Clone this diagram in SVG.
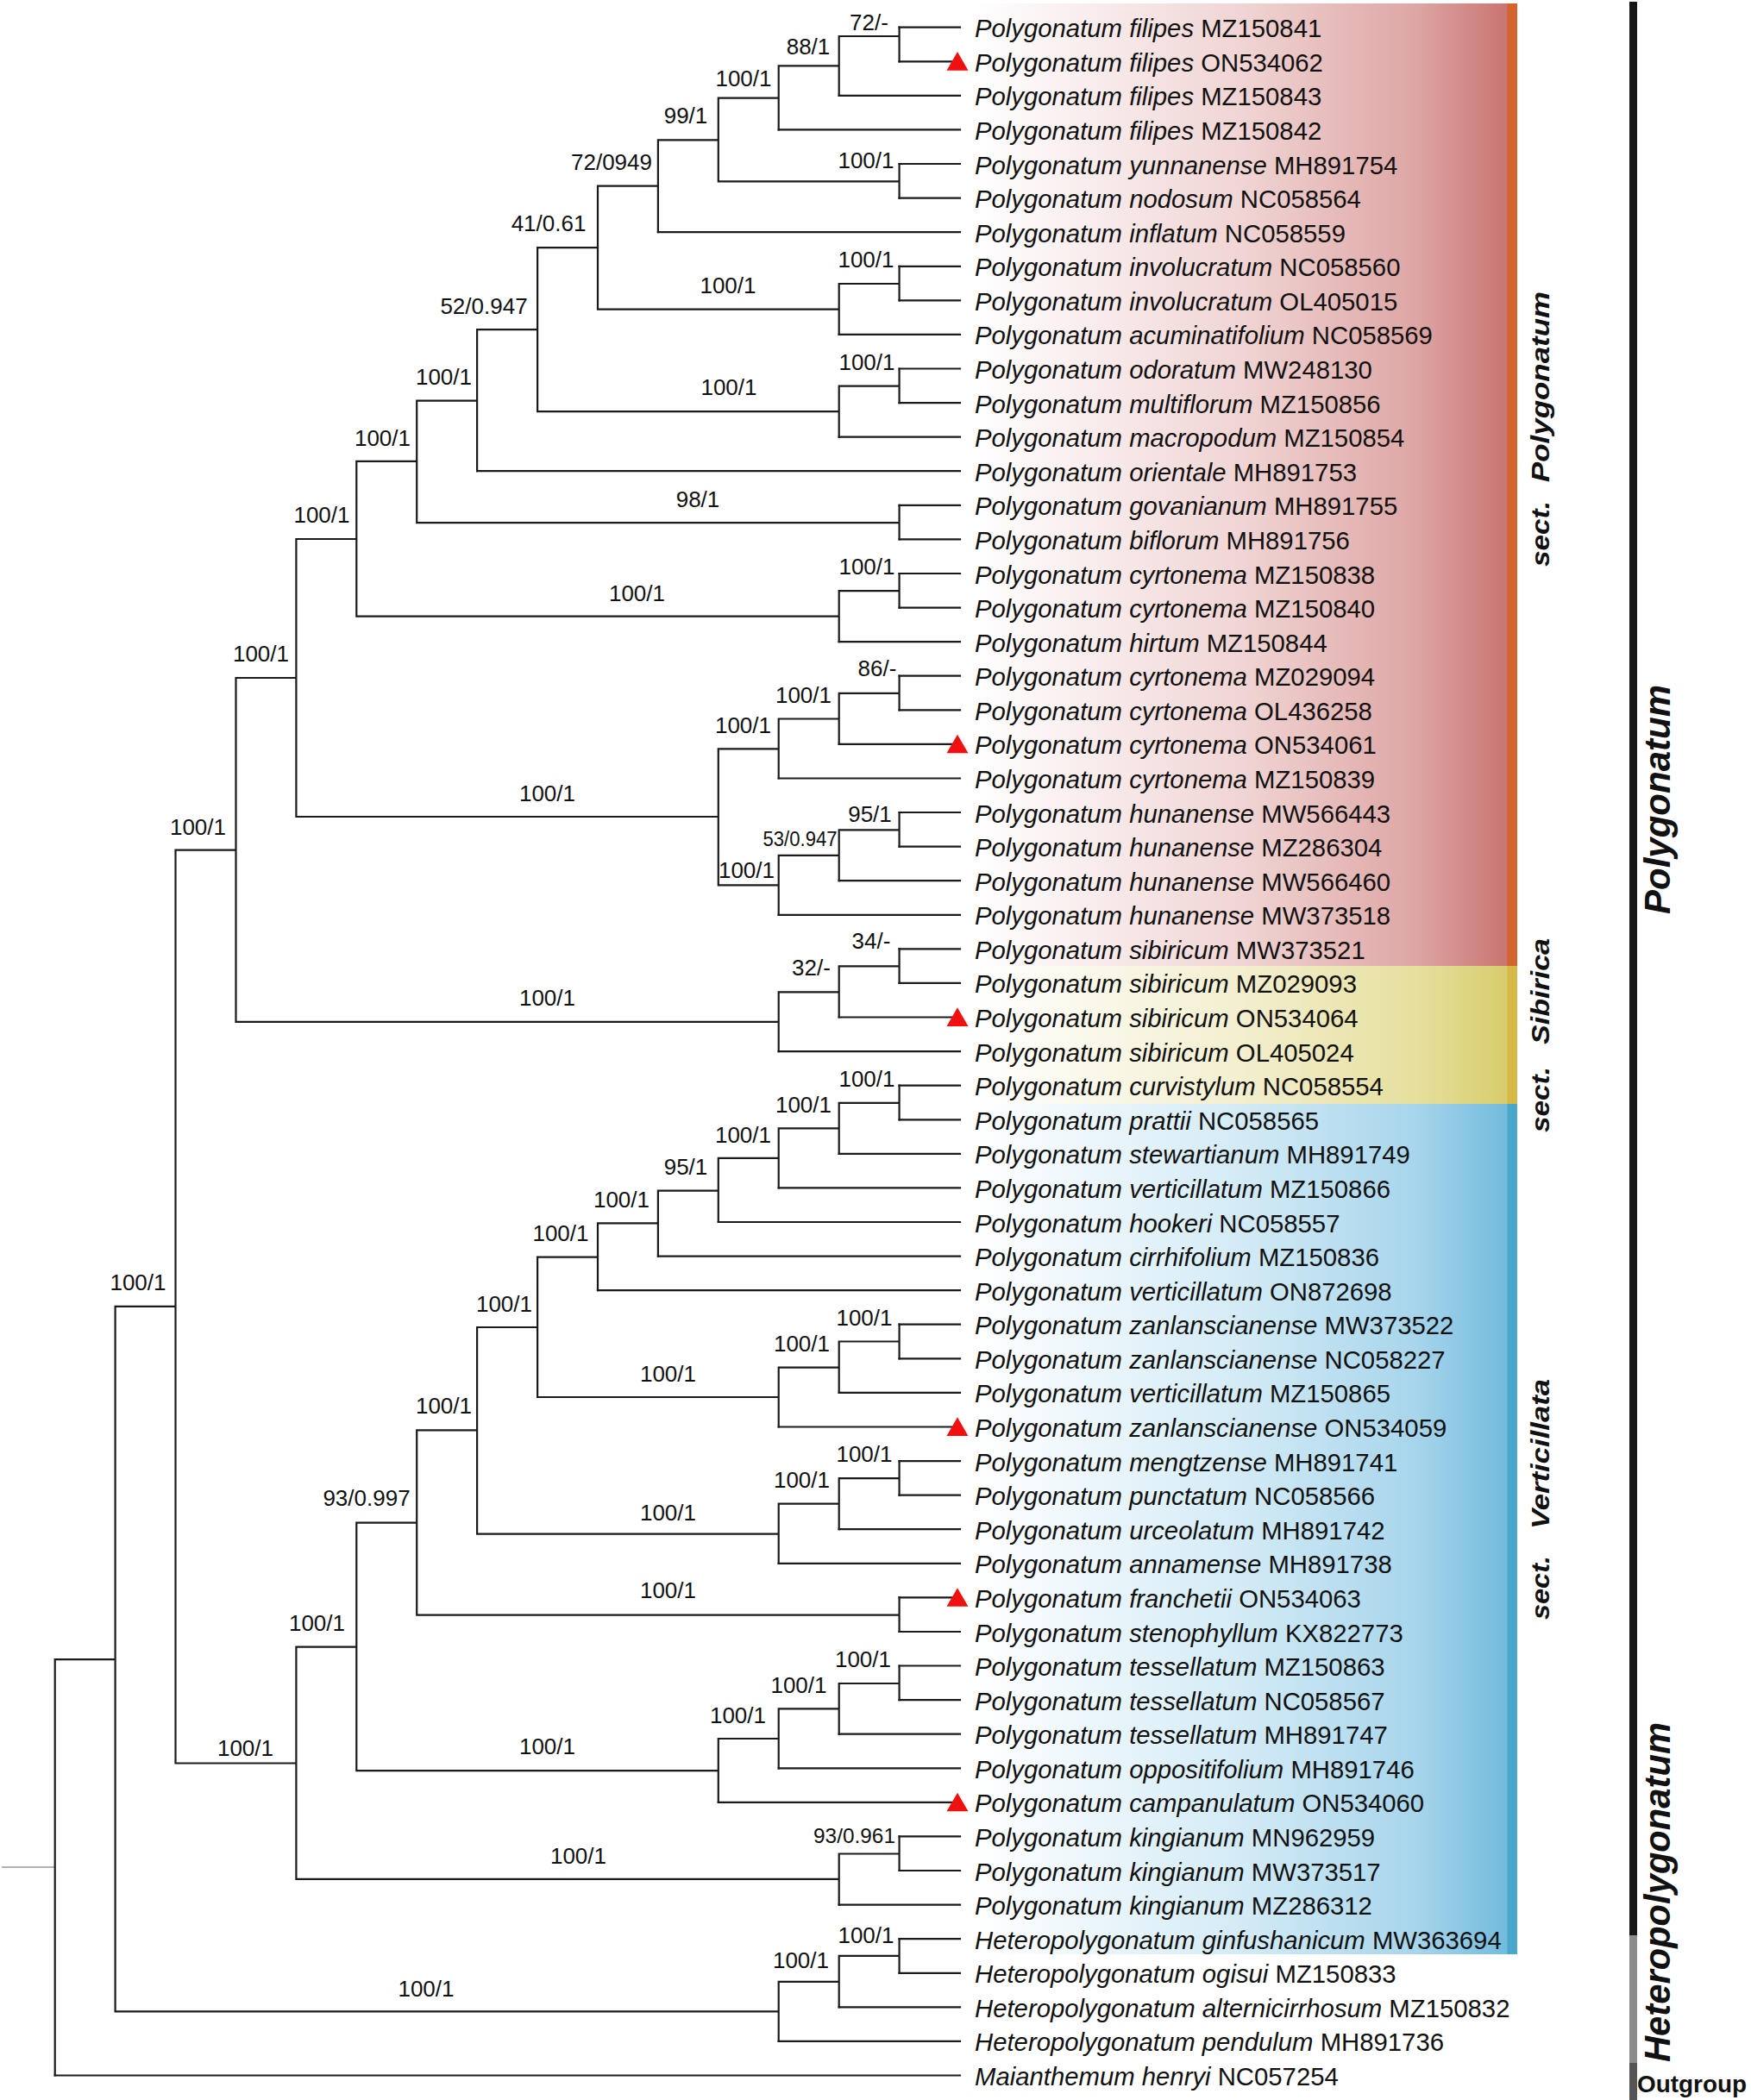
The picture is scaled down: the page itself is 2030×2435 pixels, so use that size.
<svg xmlns="http://www.w3.org/2000/svg" width="2030" height="2435" viewBox="0 0 2030 2435">
<style>
.br{fill:none;stroke:#1a1a1a;stroke-width:2.2;stroke-linecap:square}
.lf{font-family:"Liberation Sans",Arial,sans-serif;font-size:29.3px;fill:#111}
.lf text{transform:translateY(1.5px)}
.i{font-style:italic}
.bs{font-family:"Liberation Sans",Arial,sans-serif;font-size:26px;fill:#111;text-anchor:middle}
.sec{font-family:"Liberation Sans",Arial,sans-serif;font-size:30px;font-weight:bold;font-style:italic;fill:#111}
.gen{font-family:"Liberation Sans",Arial,sans-serif;font-size:43px;font-weight:bold;font-style:italic;fill:#111}
.tri{fill:#f01010}
</style>
<defs>
<linearGradient id="gR" gradientUnits="userSpaceOnUse" x1="1130" y1="0" x2="1747" y2="0">
<stop offset="0" stop-color="#ffffff"/><stop offset="0.5" stop-color="#f0d5d4"/><stop offset="0.83" stop-color="#dda6a4"/><stop offset="1" stop-color="#c97571"/>
</linearGradient>
<linearGradient id="gY" gradientUnits="userSpaceOnUse" x1="1130" y1="0" x2="1747" y2="0">
<stop offset="0" stop-color="#ffffff"/><stop offset="0.5" stop-color="#f3efcf"/><stop offset="0.83" stop-color="#e6df9e"/><stop offset="1" stop-color="#d8cd6c"/>
</linearGradient>
<linearGradient id="gB" gradientUnits="userSpaceOnUse" x1="1130" y1="0" x2="1747" y2="0">
<stop offset="0" stop-color="#ffffff"/><stop offset="0.5" stop-color="#d3ebf6"/><stop offset="0.83" stop-color="#a7d5eb"/><stop offset="1" stop-color="#72bbdd"/>
</linearGradient>
<path id="tr" d="M0,-11.2 L12.5,10.4 L-12.5,10.4 Z"/>
</defs>

<g id="backgrounds">
<rect x="1120" y="4" width="628" height="1116" fill="url(#gR)"/>
<rect x="1120" y="1120" width="628" height="160" fill="url(#gY)"/>
<rect x="1120" y="1280" width="628" height="986" fill="url(#gB)"/>
<rect x="1747.5" y="4" width="11.5" height="1116" fill="#d4632c"/>
<rect x="1747.5" y="1120" width="11.5" height="160" fill="#d5ba48"/>
<rect x="1747.5" y="1280" width="11.5" height="986" fill="#4aa7cb"/>
<rect x="1889" y="2" width="9" height="2242" fill="#161616"/>
<rect x="1889" y="2244" width="9" height="148" fill="#8c8c8c"/>
<rect x="1889" y="2392" width="9" height="43" fill="#555555"/>
</g>

<g id="connectors">
<path d="M2,2164.9 H63.7" fill="none" stroke="#9a9a9a" stroke-width="1.5"/>
<path class="br" d="
M63.7,1924.1 V2406.5
M63.7,1924.1 H133.6 M133.6,1514.8 V2332.4
M133.6,1514.8 H203.5 M203.5,985.6 V2044.5
M203.5,985.6 H273.5 M273.5,786 V1184.8
M273.5,786 H343.4 M343.4,625 V947
M343.4,625 H413.3 M413.3,534.9 V714.7
M413.3,534.9 H483.2 M483.2,464.6 V606.2
M483.2,464.6 H553.1 M553.1,382.2 V546.2
M553.1,382.2 H623.1 M623.1,287.2 V477.2
M623.1,287.2 H693 M693,215.7 V358.7
M693,215.7 H762.9 M762.9,162.3 V269.2
M762.9,162.3 H832.8 M832.8,113.7 V210.3
M832.8,113.7 H902.7 M902.7,76.3 V150.4
M902.7,76.3 H972.7 M972.7,42 V110.9
M972.7,42 H1042.6 M1042.6,31.7 V71.3
M832.8,210.3 H1042.6 M1042.6,190 V229.6
M693,358.7 H972.7 M972.7,329 V387.9
M972.7,329 H1042.6 M1042.6,308.8 V348.3
M623.1,477.2 H972.7 M972.7,447.7 V506.7
M972.7,447.7 H1042.6 M1042.6,427.5 V467.1
M483.2,606.2 H1042.6 M1042.6,585.8 V625.4
M413.3,714.7 H972.7 M972.7,685.2 V744.1
M972.7,685.2 H1042.6 M1042.6,665 V704.6
M343.4,947 H832.8 M832.8,868.4 V1026.3
M832.8,868.4 H902.7 M902.7,833.5 V902.5
M902.7,833.5 H972.7 M972.7,803.9 V862.9
M972.7,803.9 H1042.6 M1042.6,783.7 V823.3
M832.8,1026.3 H902.7 M902.7,991.9 V1060.8
M902.7,991.9 H972.7 M972.7,962.3 V1021.2
M972.7,962.3 H1042.6 M1042.6,942 V981.6
M273.5,1184.8 H902.7 M902.7,1150.4 V1219.1
M902.7,1150.4 H972.7 M972.7,1120.3 V1179.5
M972.7,1120.3 H1042.6 M1042.6,1100.4 V1139.9
M203.5,2044.5 H343.4 M343.4,1909.7 V2178.8
M343.4,1909.7 H413.3 M413.3,1765.7 V2053.2
M413.3,1765.7 H483.2 M483.2,1658.3 V1872.6
M483.2,1658.3 H553.1 M553.1,1539 V1778.7
M553.1,1539 H623.1 M623.1,1457.6 V1620
M623.1,1457.6 H693 M693,1418.4 V1496.2
M693,1418.4 H762.9 M762.9,1380.6 V1456.6
M762.9,1380.6 H832.8 M832.8,1342.8 V1417
M832.8,1342.8 H902.7 M902.7,1308.4 V1377.4
M902.7,1308.4 H972.7 M972.7,1278.8 V1337.8
M972.7,1278.8 H1042.6 M1042.6,1258.7 V1298.3
M623.1,1620 H902.7 M902.7,1585.6 V1654.5
M902.7,1585.6 H972.7 M972.7,1555.5 V1614.9
M972.7,1555.5 H1042.6 M1042.6,1535.7 V1575.3
M553.1,1778.7 H902.7 M902.7,1743.6 V1812.8
M902.7,1743.6 H972.7 M972.7,1714.2 V1773.2
M972.7,1714.2 H1042.6 M1042.6,1694.1 V1733.6
M483.2,1872.6 H1042.6 M1042.6,1852.4 V1892
M413.3,2053.2 H832.8 M832.8,2016 V2089.9
M832.8,2016 H902.7 M902.7,1981.4 V2050.3
M902.7,1981.4 H972.7 M972.7,1952 V2010.7
M972.7,1952 H1042.6 M1042.6,1931.5 V1971.1
M343.4,2178.8 H972.7 M972.7,2149.5 V2208.6
M972.7,2149.5 H1042.6 M1042.6,2129.4 V2169
M133.6,2332.4 H902.7 M902.7,2297.8 V2366.9
M902.7,2297.8 H972.7 M972.7,2267.9 V2327.3
M972.7,2267.9 H1042.6 M1042.6,2248.2 V2287.8
"/>
<path class="br" d="
M1042.6,31.7 H1113 M1042.6,71.3 H1113 M972.7,110.9 H1113 M902.7,150.4 H1113
M1042.6,190 H1113 M1042.6,229.6 H1113 M762.9,269.2 H1113 M1042.6,308.8 H1113
M1042.6,348.3 H1113 M972.7,387.9 H1113 M1042.6,427.5 H1113 M1042.6,467.1 H1113
M972.7,506.7 H1113 M553.1,546.2 H1113 M1042.6,585.8 H1113 M1042.6,625.4 H1113
M1042.6,665 H1113 M1042.6,704.6 H1113 M972.7,744.1 H1113 M1042.6,783.7 H1113
M1042.6,823.3 H1113 M972.7,862.9 H1113 M902.7,902.5 H1113 M1042.6,942 H1113
M1042.6,981.6 H1113 M972.7,1021.2 H1113 M902.7,1060.8 H1113 M1042.6,1100.4 H1113
M1042.6,1139.9 H1113 M972.7,1179.5 H1113 M902.7,1219.1 H1113 M1042.6,1258.7 H1113
M1042.6,1298.3 H1113 M972.7,1337.8 H1113 M902.7,1377.4 H1113 M832.8,1417 H1113
M762.9,1456.6 H1113 M693,1496.2 H1113 M1042.6,1535.7 H1113 M1042.6,1575.3 H1113
M972.7,1614.9 H1113 M902.7,1654.5 H1113 M1042.6,1694.1 H1113 M1042.6,1733.6 H1113
M972.7,1773.2 H1113 M902.7,1812.8 H1113 M1042.6,1852.4 H1113 M1042.6,1892 H1113
M1042.6,1931.5 H1113 M1042.6,1971.1 H1113 M972.7,2010.7 H1113 M902.7,2050.3 H1113
M832.8,2089.9 H1113 M1042.6,2129.4 H1113 M1042.6,2169 H1113 M972.7,2208.6 H1113
M1042.6,2248.2 H1113 M1042.6,2287.8 H1113 M972.7,2327.3 H1113 M902.7,2366.9 H1113
M63.7,2406.5 H1113
"/>
</g>

<g id="supports">
<text class="bs" x="1007.5" y="35">72/-</text>
<text class="bs" x="937" y="62.7">88/1</text>
<text class="bs" x="862" y="100">100/1</text>
<text class="bs" x="1004" y="195">100/1</text>
<text class="bs" x="795" y="143">99/1</text>
<text class="bs" x="709" y="197.3">72/0949</text>
<text class="bs" x="1004" y="310">100/1</text>
<text class="bs" x="844" y="340">100/1</text>
<text class="bs" x="636" y="268">41/0.61</text>
<text class="bs" x="1005" y="428.8">100/1</text>
<text class="bs" x="845" y="458.3">100/1</text>
<text class="bs" x="561" y="363.8">52/0.947</text>
<text class="bs" x="514.5" y="446.2">100/1</text>
<text class="bs" x="809" y="587.7">98/1</text>
<text class="bs" x="443.5" y="516.5">100/1</text>
<text class="bs" x="1005" y="666.3">100/1</text>
<text class="bs" x="738.5" y="696.8">100/1</text>
<text class="bs" x="373" y="606.2">100/1</text>
<text class="bs" x="1017" y="784">86/-</text>
<text class="bs" x="931.5" y="814.6">100/1</text>
<text class="bs" x="861.5" y="849.5">100/1</text>
<text class="bs" x="1008.5" y="953">95/1</text>
<text class="bs" x="927.5" y="981.2" style="font-size:23px" textLength="86" lengthAdjust="spacingAndGlyphs">53/0.947</text>
<text class="bs" x="865.5" y="1017.5">100/1</text>
<text class="bs" x="634.5" y="928.5">100/1</text>
<text class="bs" x="302.5" y="767">100/1</text>
<text class="bs" x="1010" y="1100">34/-</text>
<text class="bs" x="940.5" y="1130.7">32/-</text>
<text class="bs" x="634.5" y="1166.3">100/1</text>
<text class="bs" x="229.5" y="968">100/1</text>
<text class="bs" x="1005" y="1259.9">100/1</text>
<text class="bs" x="931.5" y="1290">100/1</text>
<text class="bs" x="861.5" y="1325.3">100/1</text>
<text class="bs" x="795" y="1361.7">95/1</text>
<text class="bs" x="720.5" y="1399.5">100/1</text>
<text class="bs" x="650" y="1439.2">100/1</text>
<text class="bs" x="584.5" y="1520.6">100/1</text>
<text class="bs" x="1002" y="1537">100/1</text>
<text class="bs" x="929.5" y="1566.7">100/1</text>
<text class="bs" x="774.5" y="1601.6">100/1</text>
<text class="bs" x="514.5" y="1639.4">100/1</text>
<text class="bs" x="1002" y="1695">100/1</text>
<text class="bs" x="929.5" y="1724.8">100/1</text>
<text class="bs" x="774.5" y="1763.3">100/1</text>
<text class="bs" x="774.5" y="1853.3">100/1</text>
<text class="bs" x="425" y="1746.4">93/0.997</text>
<text class="bs" x="1000.5" y="1932.8">100/1</text>
<text class="bs" x="926" y="1963">100/1</text>
<text class="bs" x="855.5" y="1997.8">100/1</text>
<text class="bs" x="634.5" y="2033.9">100/1</text>
<text class="bs" x="367.5" y="1891">100/1</text>
<text class="bs" x="990.5" y="2137.4" style="font-size:24px" textLength="95" lengthAdjust="spacingAndGlyphs">93/0.961</text>
<text class="bs" x="670.5" y="2160.5">100/1</text>
<text class="bs" x="284.5" y="2036.3">100/1</text>
<text class="bs" x="160" y="1496.4">100/1</text>
<text class="bs" x="1004" y="2253">100/1</text>
<text class="bs" x="928.5" y="2281.9">100/1</text>
<text class="bs" x="494" y="2314.6">100/1</text>
</g>

<g id="leaves" class="lf">
<g id="leaf01"><text x="1130" y="41.7"><tspan class="i">Polygonatum filipes</tspan> MZ150841</text></g>
<g id="leaf02"><use href="#tr" x="1110" y="71.3" class="tri"/><text x="1130" y="81.3"><tspan class="i">Polygonatum filipes</tspan> ON534062</text></g>
<g id="leaf03"><text x="1130" y="120.9"><tspan class="i">Polygonatum filipes</tspan> MZ150843</text></g>
<g id="leaf04"><text x="1130" y="160.4"><tspan class="i">Polygonatum filipes</tspan> MZ150842</text></g>
<g id="leaf05"><text x="1130" y="200"><tspan class="i">Polygonatum yunnanense</tspan> MH891754</text></g>
<g id="leaf06"><text x="1130" y="239.6"><tspan class="i">Polygonatum nodosum</tspan> NC058564</text></g>
<g id="leaf07"><text x="1130" y="279.2"><tspan class="i">Polygonatum inflatum</tspan> NC058559</text></g>
<g id="leaf08"><text x="1130" y="318.8"><tspan class="i">Polygonatum involucratum</tspan> NC058560</text></g>
<g id="leaf09"><text x="1130" y="358.3"><tspan class="i">Polygonatum involucratum</tspan> OL405015</text></g>
<g id="leaf10"><text x="1130" y="397.9"><tspan class="i">Polygonatum acuminatifolium</tspan> NC058569</text></g>
<g id="leaf11"><text x="1130" y="437.5"><tspan class="i">Polygonatum odoratum</tspan> MW248130</text></g>
<g id="leaf12"><text x="1130" y="477.1"><tspan class="i">Polygonatum multiflorum</tspan> MZ150856</text></g>
<g id="leaf13"><text x="1130" y="516.7"><tspan class="i">Polygonatum macropodum</tspan> MZ150854</text></g>
<g id="leaf14"><text x="1130" y="556.2"><tspan class="i">Polygonatum orientale</tspan> MH891753</text></g>
<g id="leaf15"><text x="1130" y="595.8"><tspan class="i">Polygonatum govanianum</tspan> MH891755</text></g>
<g id="leaf16"><text x="1130" y="635.4"><tspan class="i">Polygonatum biflorum</tspan> MH891756</text></g>
<g id="leaf17"><text x="1130" y="675"><tspan class="i">Polygonatum cyrtonema</tspan> MZ150838</text></g>
<g id="leaf18"><text x="1130" y="714.6"><tspan class="i">Polygonatum cyrtonema</tspan> MZ150840</text></g>
<g id="leaf19"><text x="1130" y="754.1"><tspan class="i">Polygonatum hirtum</tspan> MZ150844</text></g>
<g id="leaf20"><text x="1130" y="793.7"><tspan class="i">Polygonatum cyrtonema</tspan> MZ029094</text></g>
<g id="leaf21"><text x="1130" y="833.3"><tspan class="i">Polygonatum cyrtonema</tspan> OL436258</text></g>
<g id="leaf22"><use href="#tr" x="1110" y="862.9" class="tri"/><text x="1130" y="872.9"><tspan class="i">Polygonatum cyrtonema</tspan> ON534061</text></g>
<g id="leaf23"><text x="1130" y="912.5"><tspan class="i">Polygonatum cyrtonema</tspan> MZ150839</text></g>
<g id="leaf24"><text x="1130" y="952"><tspan class="i">Polygonatum hunanense</tspan> MW566443</text></g>
<g id="leaf25"><text x="1130" y="991.6"><tspan class="i">Polygonatum hunanense</tspan> MZ286304</text></g>
<g id="leaf26"><text x="1130" y="1031.2"><tspan class="i">Polygonatum hunanense</tspan> MW566460</text></g>
<g id="leaf27"><text x="1130" y="1070.8"><tspan class="i">Polygonatum hunanense</tspan> MW373518</text></g>
<g id="leaf28"><text x="1130" y="1110.4"><tspan class="i">Polygonatum sibiricum</tspan> MW373521</text></g>
<g id="leaf29"><text x="1130" y="1149.9"><tspan class="i">Polygonatum sibiricum</tspan> MZ029093</text></g>
<g id="leaf30"><use href="#tr" x="1110" y="1179.5" class="tri"/><text x="1130" y="1189.5"><tspan class="i">Polygonatum sibiricum</tspan> ON534064</text></g>
<g id="leaf31"><text x="1130" y="1229.1"><tspan class="i">Polygonatum sibiricum</tspan> OL405024</text></g>
<g id="leaf32"><text x="1130" y="1268.7"><tspan class="i">Polygonatum curvistylum</tspan> NC058554</text></g>
<g id="leaf33"><text x="1130" y="1308.3"><tspan class="i">Polygonatum prattii</tspan> NC058565</text></g>
<g id="leaf34"><text x="1130" y="1347.8"><tspan class="i">Polygonatum stewartianum</tspan> MH891749</text></g>
<g id="leaf35"><text x="1130" y="1387.4"><tspan class="i">Polygonatum verticillatum</tspan> MZ150866</text></g>
<g id="leaf36"><text x="1130" y="1427"><tspan class="i">Polygonatum hookeri</tspan> NC058557</text></g>
<g id="leaf37"><text x="1130" y="1466.6"><tspan class="i">Polygonatum cirrhifolium</tspan> MZ150836</text></g>
<g id="leaf38"><text x="1130" y="1506.2"><tspan class="i">Polygonatum verticillatum</tspan> ON872698</text></g>
<g id="leaf39"><text x="1130" y="1545.7"><tspan class="i">Polygonatum zanlanscianense</tspan> MW373522</text></g>
<g id="leaf40"><text x="1130" y="1585.3"><tspan class="i">Polygonatum zanlanscianense</tspan> NC058227</text></g>
<g id="leaf41"><text x="1130" y="1624.9"><tspan class="i">Polygonatum verticillatum</tspan> MZ150865</text></g>
<g id="leaf42"><use href="#tr" x="1110" y="1654.5" class="tri"/><text x="1130" y="1664.5"><tspan class="i">Polygonatum zanlanscianense</tspan> ON534059</text></g>
<g id="leaf43"><text x="1130" y="1704.1"><tspan class="i">Polygonatum mengtzense</tspan> MH891741</text></g>
<g id="leaf44"><text x="1130" y="1743.6"><tspan class="i">Polygonatum punctatum</tspan> NC058566</text></g>
<g id="leaf45"><text x="1130" y="1783.2"><tspan class="i">Polygonatum urceolatum</tspan> MH891742</text></g>
<g id="leaf46"><text x="1130" y="1822.8"><tspan class="i">Polygonatum annamense</tspan> MH891738</text></g>
<g id="leaf47"><use href="#tr" x="1110" y="1852.4" class="tri"/><text x="1130" y="1862.4"><tspan class="i">Polygonatum franchetii</tspan> ON534063</text></g>
<g id="leaf48"><text x="1130" y="1902"><tspan class="i">Polygonatum stenophyllum</tspan> KX822773</text></g>
<g id="leaf49"><text x="1130" y="1941.5"><tspan class="i">Polygonatum tessellatum</tspan> MZ150863</text></g>
<g id="leaf50"><text x="1130" y="1981.1"><tspan class="i">Polygonatum tessellatum</tspan> NC058567</text></g>
<g id="leaf51"><text x="1130" y="2020.7"><tspan class="i">Polygonatum tessellatum</tspan> MH891747</text></g>
<g id="leaf52"><text x="1130" y="2060.3"><tspan class="i">Polygonatum oppositifolium</tspan> MH891746</text></g>
<g id="leaf53"><use href="#tr" x="1110" y="2089.9" class="tri"/><text x="1130" y="2099.9"><tspan class="i">Polygonatum campanulatum</tspan> ON534060</text></g>
<g id="leaf54"><text x="1130" y="2139.4"><tspan class="i">Polygonatum kingianum</tspan> MN962959</text></g>
<g id="leaf55"><text x="1130" y="2179"><tspan class="i">Polygonatum kingianum</tspan> MW373517</text></g>
<g id="leaf56"><text x="1130" y="2218.6"><tspan class="i">Polygonatum kingianum</tspan> MZ286312</text></g>
<g id="leaf57"><text x="1130" y="2258.2"><tspan class="i">Heteropolygonatum ginfushanicum</tspan> MW363694</text></g>
<g id="leaf58"><text x="1130" y="2297.8"><tspan class="i">Heteropolygonatum ogisui</tspan> MZ150833</text></g>
<g id="leaf59"><text x="1130" y="2337.3"><tspan class="i">Heteropolygonatum alternicirrhosum</tspan> MZ150832</text></g>
<g id="leaf60"><text x="1130" y="2376.9"><tspan class="i">Heteropolygonatum pendulum</tspan> MH891736</text></g>
<g id="leaf61"><text x="1130" y="2416.5"><tspan class="i">Maianthemum henryi</tspan> NC057254</text></g>
</g>

<g id="clade-labels">
<text class="sec" transform="translate(1796,657) rotate(-90)" textLength="76" lengthAdjust="spacingAndGlyphs">sect.</text>
<text class="sec" transform="translate(1796,559) rotate(-90)" textLength="221" lengthAdjust="spacingAndGlyphs">Polygonatum</text>
<text class="sec" transform="translate(1796,1313) rotate(-90)" textLength="76" lengthAdjust="spacingAndGlyphs">sect.</text>
<text class="sec" transform="translate(1796,1211) rotate(-90)" textLength="123" lengthAdjust="spacingAndGlyphs">Sibirica</text>
<text class="sec" transform="translate(1796,1878) rotate(-90)" textLength="74" lengthAdjust="spacingAndGlyphs">sect.</text>
<text class="sec" transform="translate(1796,1773) rotate(-90)" textLength="174" lengthAdjust="spacingAndGlyphs">Verticillata</text>
<text class="gen" transform="translate(1936,1060) rotate(-90)" textLength="266" lengthAdjust="spacingAndGlyphs">Polygonatum</text>
<text class="gen" transform="translate(1936,2391) rotate(-90)" textLength="394" lengthAdjust="spacingAndGlyphs">Heteropolygonatum</text>
<text x="1898" y="2426" font-family="Liberation Sans, Arial, sans-serif" font-size="27" font-weight="bold" fill="#111" textLength="127" lengthAdjust="spacingAndGlyphs">Outgroup</text>
</g>
</svg>
